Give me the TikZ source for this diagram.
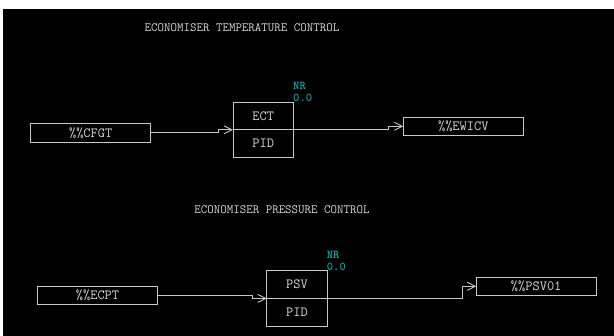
\documentclass[tikz,border=0pt]{standalone}
\usepackage{fontspec}
\usepackage{xcolor}
\usepackage{tikz}
\usetikzlibrary{arrows.meta,positioning}
\definecolor{scadaline}{HTML}{C8C8C8}
\definecolor{scadatext}{HTML}{D8D8D8}
\definecolor{scadacyan}{HTML}{00AFAF}

\begin{document}
\begin{tikzpicture}[x=1pt,y=-1pt,
  tagbox/.style={draw=scadaline,line width=0.9pt,minimum width=120pt,minimum height=18.5pt,inner sep=0pt,outer sep=0pt,text=scadatext,font=\ttfamily\fontsize{14}{15}\selectfont},
  halfbox/.style={tagbox,minimum width=60.5pt,minimum height=27.7pt},
  title/.style={text=scadatext,font=\ttfamily\fontsize{12.6}{13}\selectfont},
  nrtext/.style={text=scadacyan,anchor=west,inner sep=0pt,font=\ttfamily\bfseries\fontsize{12}{13}\selectfont},
  conn/.style={draw=scadaline,line width=0.9pt,-{Straight Barb[length=8pt,width=8pt]}}]
  \useasboundingbox (0,0) rectangle (614,336);
  \fill[white] (0,0) rectangle (614,336);
  \fill[black] (3,9) rectangle (614,336); % screen area

  % temperature loop
  \node[title] (ttl1) at (242,28) {ECONOMISER TEMPERATURE CONTROL};
  \node[tagbox] (cfgt) at (90.7,132.8) {\%\%CFGT};
  \node[halfbox] (ectU) at (263.3,116) {ECT};
  \node[halfbox,below=0pt of ectU] (ectL) {PID};
  \node[nrtext] (nrA) at (293,86) {NR};
  \node[nrtext] (valA) at (293,97.5) {0.0};
  \node[tagbox,minimum height=18pt] (ewicv) at (463.3,126.3) {\%\%EWICV};
  \draw[conn] (cfgt.east) -- ++(68,0) |- (ectU.south west);
  \draw[conn] (ectU.south east) -- ++(95,0) |- (ewicv.west);

  % pressure loop
  \node[title] (ttl2) at (282,210) {ECONOMISER PRESSURE CONTROL};
  \node[tagbox] (ecpt) at (97.5,295.5) {\%\%ECPT};
  \node[halfbox] (psvU) at (297,284.6) {PSV};
  \node[halfbox,below=0pt of psvU] (psvL) {PID};
  \node[nrtext] (nrB) at (326.7,255) {NR};
  \node[nrtext] (valB) at (326.7,266.5) {0.0};
  \node[tagbox,minimum height=18pt] (psv01) at (536.2,286.3) {\%\%PSV01};
  \draw[conn] (ecpt.east) -- ++(94.6,0) |- (psvU.south west);
  \draw[conn] (psvU.south east) -- ++(135,0) |- (psv01.west);
\end{tikzpicture}
\end{document}
